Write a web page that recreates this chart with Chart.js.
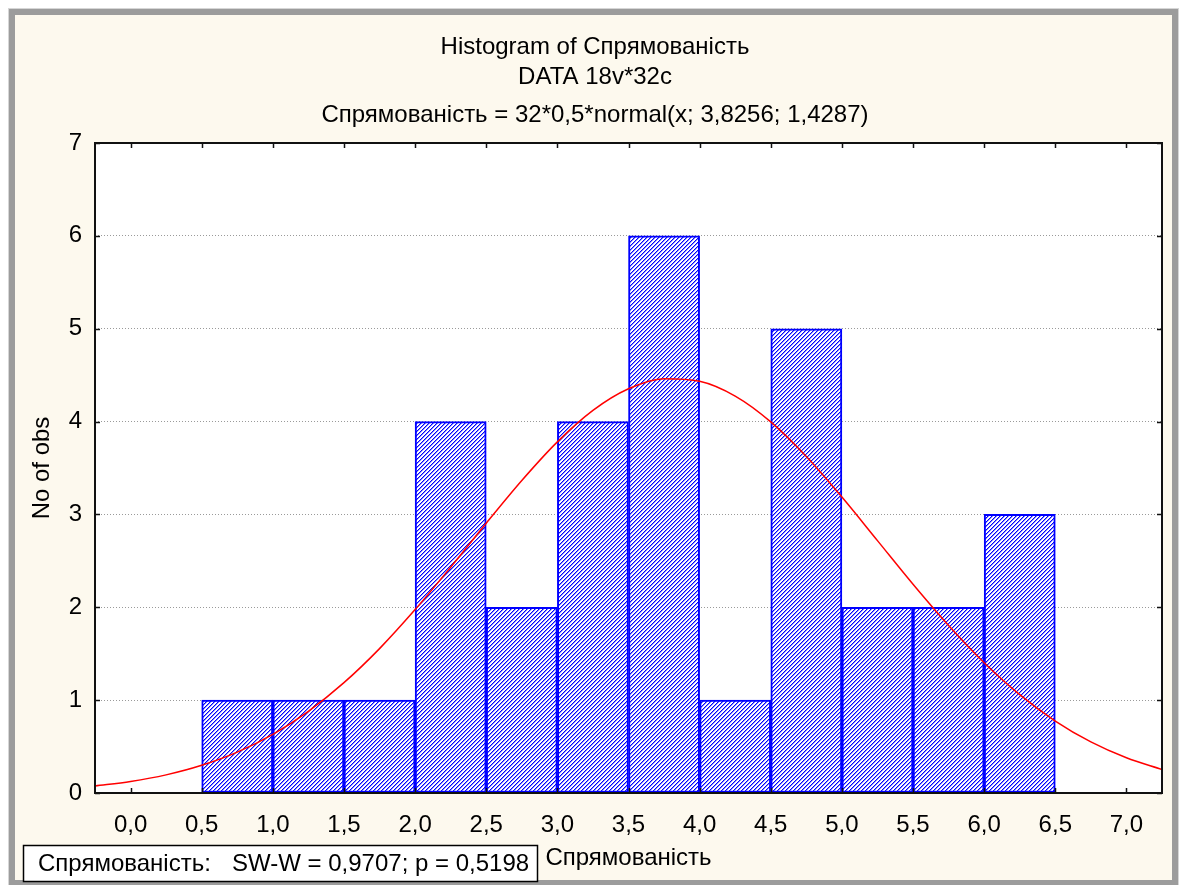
<!DOCTYPE html>
<html><head><meta charset="utf-8">
<script src="https://cdn.jsdelivr.net/npm/chart.js@4.4.1/dist/chart.umd.min.js"></script>
<style>
html,body{margin:0;padding:0;background:#fff;width:1184px;height:885px;overflow:hidden;}
#frame{position:absolute;left:9px;top:9px;width:1157px;height:865px;border:6px solid #9c9c9c;background:#FDF9EE;box-shadow:0 0 0 1px #d6d6d6;}
#wrap{position:absolute;left:0;top:0;width:1184px;height:885px;}
canvas{display:block;}
</style></head><body>
<div id="frame"></div>
<div id="wrap"><canvas id="c" width="1184" height="885"></canvas></div>
<script>
// ---- data ----
const binCenters = [0.75, 1.25, 1.75, 2.25, 2.75, 3.25, 3.75, 4.25, 4.75, 5.25, 5.75, 6.25];
const binCounts  = [1, 1, 1, 4, 2, 4, 6, 1, 5, 2, 2, 3];
const curveX = [-0.25, 0, 0.25, 0.5, 0.75, 1, 1.25, 1.5, 1.75, 2, 2.25, 2.5, 2.75, 3, 3.25, 3.5, 3.75, 4, 4.25, 4.5, 4.75, 5, 5.25, 5.5, 5.75, 6, 6.25, 6.5, 6.75, 7, 7.25];
const curveY = [0.076, 0.124, 0.195, 0.298, 0.440, 0.632, 0.880, 1.188, 1.555, 1.975, 2.432, 2.905, 3.365, 3.781, 4.120, 4.353, 4.462, 4.435, 4.275, 3.997, 3.624, 3.187, 2.718, 2.248, 1.804, 1.403, 1.059, 0.775, 0.550, 0.379, 0.253];
const xTickValues = [0, 0.5, 1, 1.5, 2, 2.5, 3, 3.5, 4, 4.5, 5, 5.5, 6, 6.5, 7];
const xTickLabels = ['0,0','0,5','1,0','1,5','2,0','2,5','3,0','3,5','4,0','4,5','5,0','5,5','6,0','6,5','7,0'];
const yTickValues = [0, 1, 2, 3, 4, 5, 6, 7];
const yTickLabels = ['0','1','2','3','4','5','6','7'];
const titleLines = ['Histogram of Спрямованість', 'DATA 18v*32c'];
const subtitleText = 'Спрямованість = 32*0,5*normal(x; 3,8256; 1,4287)';
const xAxisTitle = 'Спрямованість';
const yAxisTitle = 'No of obs';
const statsLabel = 'Спрямованість:';
const statsValue = 'SW-W = 0,9707; p = 0,5198';

const FONT = '"Liberation Sans", Arial, sans-serif';
const FS = 24;

const canvas = document.getElementById('c');
const ctx0 = canvas.getContext('2d');
function makeHatch(){
  const t = document.createElement('canvas');
  t.width = 4; t.height = 4;
  const g = t.getContext('2d');
  g.fillStyle = '#ffffff'; g.fillRect(0,0,4,4);
  g.fillStyle = '#8c8cff';
  for (let i=0;i<4;i++) g.fillRect(i, (4-i)%4, 1, 1);
  g.fillStyle = '#0000ff';
  for (let i=0;i<4;i++) g.fillRect(i, 3-i, 1, 1);
  return ctx0.createPattern(t, 'repeat');
}
const hatch = makeHatch();

const decorPlugin = {
  id: 'decor',
  beforeDraw(chart){
    const {ctx, chartArea:a} = chart;
    ctx.save();
    ctx.fillStyle = '#ffffff';
    ctx.fillRect(a.left, a.top, a.right-a.left, a.bottom-a.top);
    ctx.restore();
  },
  afterDraw(chart){
    const {ctx, chartArea:a, scales} = chart;
    ctx.save();
    ctx.strokeStyle = '#111';
    ctx.lineWidth = 1.5;
    ctx.beginPath();
    scales.x.ticks.forEach(t => {
      const p = Math.round(scales.x.getPixelForValue(t.value)) + 0.5;
      ctx.moveTo(p, a.bottom); ctx.lineTo(p, a.bottom-5);
      ctx.moveTo(p, a.top); ctx.lineTo(p, a.top+5);
    });
    scales.y.ticks.forEach(t => {
      const p = Math.round(scales.y.getPixelForValue(t.value)) + 0.5;
      ctx.moveTo(a.left, p); ctx.lineTo(a.left+5, p);
      ctx.moveTo(a.right, p); ctx.lineTo(a.right-5, p);
    });
    ctx.stroke();
    ctx.lineWidth = 2;
    ctx.strokeRect(a.left, a.top, a.right-a.left, a.bottom-a.top);
    // stats box
    ctx.fillStyle = '#ffffff';
    ctx.fillRect(23, 845, 514, 36);
    ctx.lineWidth = 1.5;
    ctx.strokeStyle = '#000';
    ctx.strokeRect(23.5, 845.5, 514, 36);
    ctx.fillStyle = '#000';
    ctx.font = FS + 'px ' + FONT;
    ctx.textBaseline = 'middle';
    ctx.textAlign = 'left';
    ctx.fillText(statsLabel, 38, 864);
    ctx.fillText(statsValue, 232, 864);
    ctx.restore();
  }
};

new Chart(canvas, {
  type: 'bar',
  data: {
    datasets: [
      {
        type: 'line',
        data: curveX.map((x,i)=>({x, y: curveY[i]})),
        borderColor: '#ff0000',
        borderWidth: 1.5,
        pointRadius: 0,
        cubicInterpolationMode: 'monotone',
        fill: false,
        order: 0
      },
      {
        type: 'bar',
        data: binCenters.map((x,i)=>({x, y: binCounts[i]})),
        backgroundColor: hatch,
        borderColor: '#0000ff',
        borderWidth: 2,
        borderSkipped: false,
        barPercentage: 1,
        categoryPercentage: 1,
        order: 1
      }
    ]
  },
  options: {
    responsive: false,
    animation: false,
    devicePixelRatio: 1,
    layout: { padding: { left: 14, right: 8, top: 0, bottom: 0 } },
    plugins: {
      legend: { display: false },
      tooltip: { enabled: false },
      title: {
        display: true, text: titleLines, color: '#000',
        font: { family: FONT, size: FS, weight: 'normal', lineHeight: 30/FS },
        padding: { top: 32, bottom: 8 }
      },
      subtitle: {
        display: true, text: subtitleText, color: '#000',
        font: { family: FONT, size: FS, weight: 'normal', lineHeight: 30/FS },
        padding: { top: 0, bottom: 13 }
      }
    },
    scales: {
      x: {
        type: 'linear', min: -0.25, max: 7.25, offset: false,
        afterBuildTicks(s){ s.ticks = xTickValues.map(v => ({ value: v })); },
        grid: { display: false, drawTicks: false },
        border: { display: false },
        ticks: {
          autoSkip: false, maxRotation: 0,
          padding: 18, color: '#000', font: { family: FONT, size: FS },
          callback: (v, i) => xTickLabels[i]
        },
        title: { display: true, text: xAxisTitle, color: '#000', font: { family: FONT, size: FS }, padding: { top: 0, bottom: 12 } },
        afterFit(s){ s.height = 92; }
      },
      y: {
        min: 0, max: 7,
        afterBuildTicks(s){ s.ticks = yTickValues.map(v => ({ value: v })); },
        grid: {
          drawTicks: false, lineWidth: 1,
          color: (c) => (c.tick && c.tick.value > 0 && c.tick.value < 7) ? '#9a9a9a' : 'rgba(0,0,0,0)'
        },
        border: { display: false, dash: [1, 2] },
        ticks: {
          padding: 13, color: '#000', font: { family: FONT, size: FS },
          callback: (v, i) => yTickLabels[i]
        },
        title: { display: true, text: yAxisTitle, color: '#000', font: { family: FONT, size: FS }, padding: { top: 14, bottom: 0 } },
        afterFit(s){ s.width = 81; }
      },
      y2: {
        position: 'right', display: true,
        grid: { display: false, drawOnChartArea: false, drawTicks: false },
        border: { display: false },
        ticks: { display: false },
        afterFit(s){ s.width = 14; }
      }
    }
  },
  plugins: [decorPlugin]
});
</script>
</body></html>
